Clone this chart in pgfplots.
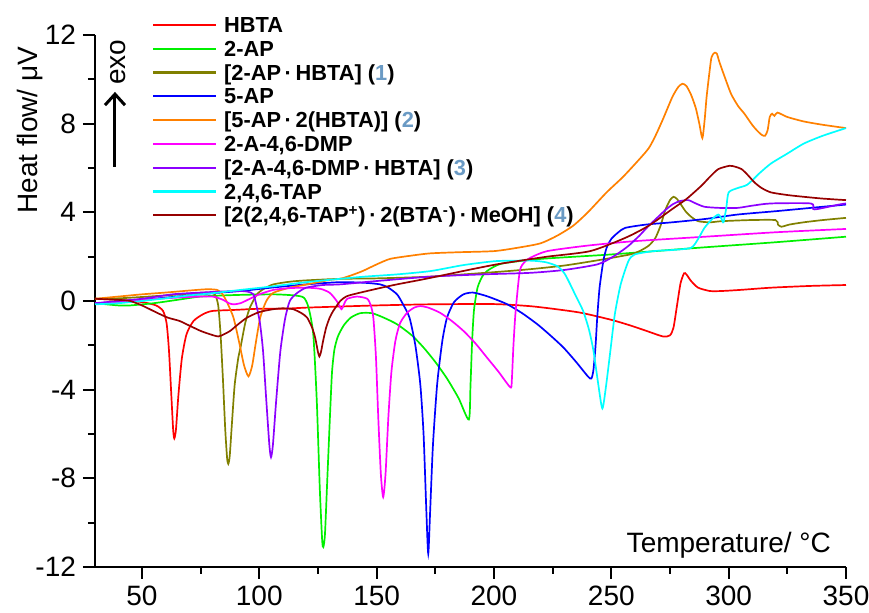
\documentclass[border=0pt]{standalone}
\usepackage{fontspec}
\setmainfont{Liberation Sans}
\usepackage{pgfplots}
\pgfplotsset{compat=1.18}
\usetikzlibrary{arrows.meta}
\definecolor{cHBTA}{RGB}{255,0,0}
\definecolor{cTwoAP}{RGB}{0,240,0}
\definecolor{cOne}{RGB}{128,128,0}
\definecolor{cFiveAP}{RGB}{0,0,255}
\definecolor{cTwo}{RGB}{255,128,0}
\definecolor{cDMP}{RGB}{255,0,255}
\definecolor{cThree}{RGB}{140,0,255}
\definecolor{cTAP}{RGB}{0,255,255}
\definecolor{cFour}{RGB}{150,0,0}
\definecolor{numblue}{RGB}{106,154,196}
\newcommand{\nb}[1]{\textcolor{numblue}{#1}}
\begin{document}
\begin{tikzpicture}
\begin{axis}[
  at={(0,0)}, anchor=south west,
  scale only axis, width=375.5pt, height=266pt,
  xmin=30, xmax=350, ymin=-12, ymax=12,
  axis lines=left, axis line style={-, line width=1pt, black},
  tick align=outside, major tick length=6pt, minor tick length=3.5pt,
  xtick={50,100,...,350}, minor x tick num=1,
  ytick={-12,-8,...,12}, minor y tick num=1,
  tick style={black, line width=1pt},
  ticklabel style={font=\fontsize{14}{16}\selectfont},
  /pgf/number format/assume math mode=true,
  clip=false,
  legend cell align=left,
  legend style={
    at={(0,1)}, anchor=north west, xshift=28.5pt, yshift=11pt,
    draw=none, fill=none, inner sep=0pt, outer sep=0pt,
    font=\fontsize{10.9}{12}\selectfont\bfseries,
    row sep=0pt, column sep=3.5pt,
    nodes={inner sep=0pt, text height=9.8pt, text depth=2.1pt},
  },
  legend image code/.code={\draw[#1, line width=1.1pt] (0pt,0pt) -- (31.5pt,0pt);},
  every axis plot/.append style={line width=0.85pt, smooth, tension=0.4},
]
% HBTA
\addplot[cHBTA] coordinates {
(30,0.1)(40,0.05)(50,-0.05)(56,-0.2)(59,-0.45)(60.5,-1.0)(61.5,-2.2)(62.5,-4.2)(63.3,-5.8)(63.8,-6.2)(64.5,-5.8)(65.5,-4.3)(67,-2.6)(69,-1.5)(72,-0.9)(76,-0.6)(80,-0.45)(90,-0.4)(100,-0.35)(110,-0.35)(120,-0.3)(134.5,-0.25)(150,-0.2)(173,-0.15)(200,-0.14)(215,-0.23)(225,-0.35)(237,-0.53)(250,-0.85)(258,-1.1)(265,-1.35)(272,-1.6)(275,-1.55)(276.5,-1.2)(278,-0.2)(279.5,0.8)(281,1.25)(282,1.2)(284,0.9)(287,0.6)(292,0.45)(297,0.45)(305,0.5)(318,0.6)(335,0.68)(350,0.72)};
\addlegendentry{HBTA}
% 2-AP
\addplot[cTwoAP] coordinates {
(30,-0.1)(40,-0.2)(45,-0.2)(55,-0.1)(65,0.05)(75,0.2)(90,0.27)(106,0.3)(115,0.25)(119,0.15)(121,-0.3)(123,-1.5)(124.5,-4.5)(125.8,-8.5)(126.8,-10.8)(127.3,-11.1)(128,-10.5)(129,-8)(130.2,-5)(131,-3.2)(132,-2.2)(133.5,-1.6)(136,-1.1)(139,-0.75)(143,-0.55)(148,-0.55)(153,-0.75)(158.7,-1.05)(165,-1.55)(170,-2.1)(175,-2.75)(180,-3.5)(185,-4.4)(189.3,-5.35)(190,-3.8)(190.7,-1.8)(191.5,-0.4)(193,0.6)(195,1.1)(197,1.35)(201,1.6)(205,1.72)(220,1.9)(250,2.1)(287,2.4)(320,2.65)(350,2.9)};
\addlegendentry{2-AP}
% (1)
\addplot[cOne] coordinates {
(30,0.1)(40,0.12)(50,0.18)(60,0.25)(70,0.33)(77.7,0.38)(81,0.3)(82.5,-0.2)(83.5,-1.5)(84.5,-3.5)(85.5,-5.8)(86.3,-7.1)(86.8,-7.35)(87.4,-7.0)(88.3,-5.6)(89.5,-3.8)(91,-2.6)(92,-2.1)(94,-1.0)(96,-0.3)(99,0.3)(102,0.55)(106,0.75)(113,0.87)(120,0.93)(134.5,1.0)(150,1.02)(173,1.1)(200,1.3)(215,1.43)(230,1.6)(245,1.85)(258,2.1)(262,2.25)(266,2.5)(268.8,2.85)(271,3.4)(273,4.1)(275,4.55)(276.5,4.7)(278,4.6)(280,4.3)(281.6,4.05)(284,3.8)(287,3.6)(292,3.55)(297,3.6)(309,3.65)(320,3.65)(321,3.45)(322.5,3.35)(326,3.45)(332,3.55)(340,3.65)(350,3.75)};
\addlegendentry{[2-AP\,·\,HBTA] (\nb{1})}
% 5-AP
\addplot[cFiveAP] coordinates {
(30,-0.1)(40,-0.05)(50,0.05)(60,0.15)(70,0.25)(80,0.35)(92,0.45)(105,0.6)(120,0.75)(134.5,0.85)(145,0.82)(151.5,0.75)(155,0.6)(158.7,0.3)(161,-0.1)(164,-0.75)(166.5,-2.0)(168.6,-3.75)(170,-6)(171.2,-9.5)(172,-11.4)(172.8,-9.5)(174,-6.5)(175.8,-3.75)(178,-1.8)(180,-0.75)(183,-0.05)(187,0.3)(191,0.38)(196,0.25)(200,0.1)(205.7,-0.15)(212,-0.55)(218.5,-1.05)(224,-1.55)(229.6,-2.1)(235,-2.75)(240,-3.4)(241.5,-3.5)(242.4,-3.1)(243.3,-2.0)(244,-0.75)(245,0.6)(246.6,1.8)(248,2.4)(250,2.8)(253,3.1)(256,3.3)(265,3.45)(276,3.55)(290,3.7)(303.8,3.9)(320,4.05)(335,4.2)(350,4.35)};
\addlegendentry{5-AP}
% (2)
\addplot[cTwo] coordinates {
(30,0.1)(40,0.2)(50,0.3)(60,0.38)(70,0.47)(77.7,0.53)(82,0.5)(84,0.35)(86,0)(89,-0.75)(91.5,-1.9)(93.5,-2.9)(95.4,-3.4)(97,-2.9)(98.5,-1.9)(100.4,-0.75)(103,0)(106,0.37)(113,0.6)(120.4,0.75)(130,0.95)(134.5,1.0)(139,1.15)(144,1.35)(150,1.65)(155.8,1.9)(165,2.05)(173,2.15)(185,2.2)(200,2.25)(210,2.4)(219.8,2.6)(227,2.95)(233.8,3.4)(240,4.0)(248,4.9)(255,5.6)(262,6.4)(266,6.9)(268.8,7.45)(272,8.2)(276,9.2)(278.5,9.65)(280.3,9.8)(282,9.7)(284,9.3)(286,8.7)(287.5,8.0)(288.8,7.35)(289.8,8.2)(290.6,9.2)(291.8,10.3)(292.7,11.0)(294,11.2)(295,11.15)(296,10.8)(298,10.2)(301,9.35)(304,8.8)(306.7,8.45)(310,7.95)(312,7.7)(314,7.5)(315.5,7.45)(316.6,7.7)(317.5,8.3)(318.5,8.45)(319.5,8.35)(320.8,8.5)(325,8.3)(332,8.1)(340,7.95)(350,7.8)};
\addlegendentry{[5-AP\,·\,2(HBTA)] (\nb{2})}
% 2-A-4,6-DMP
\addplot[cDMP] coordinates {
(30,-0.1)(40,-0.05)(50,0.05)(60,0.12)(70,0.18)(80,0.2)(84.6,0.05)(87,-0.1)(89,-0.15)(92,-0.1)(96,0.1)(100,0.3)(106,0.5)(113,0.58)(120,0.6)(126,0.55)(130,0.37)(133,0.0)(135,-0.37)(136.3,-0.1)(137.5,0.1)(141.7,0.2)(146,0.1)(147.5,-0.2)(148.6,-0.75)(149.7,-2.5)(150.7,-5.25)(151.8,-7.8)(152.8,-8.85)(153.8,-7.8)(155,-5.25)(156.3,-3.2)(158,-1.8)(160,-1.0)(163,-0.53)(166,-0.3)(168.6,-0.23)(172,-0.3)(177,-0.53)(182,-0.9)(187,-1.35)(192,-1.9)(197,-2.55)(202,-3.2)(207,-3.9)(207.6,-3.6)(208.3,-2.0)(209.2,-0.5)(211,1.35)(213,1.75)(215.5,1.95)(222.7,2.25)(240,2.5)(260,2.7)(290,2.9)(320,3.1)(350,3.25)};
\addlegendentry{2-A-4,6-DMP}
% (3)
\addplot[cThree] coordinates {
(30,-0.1)(40,0.0)(50,0.1)(63,0.3)(75,0.38)(85,0.43)(92,0.45)(95,0.42)(97.5,0.3)(99,-0.3)(100.3,-1.0)(101.6,-2.25)(103,-4.5)(104.3,-6.5)(105,-7.05)(105.8,-6.5)(107.2,-4.5)(109,-2.25)(111,-0.8)(113,0.0)(116,0.35)(120,0.6)(127,0.72)(134.5,0.75)(150,0.9)(173,1.1)(195,1.2)(215.5,1.27)(230,1.4)(244,1.65)(250,1.95)(255,2.3)(258,2.55)(262,2.95)(266,3.4)(270,3.8)(273,4.1)(276,4.35)(279,4.5)(282.8,4.55)(286,4.4)(289.7,4.25)(296,4.2)(303.8,4.2)(310,4.3)(318,4.4)(335,4.4)(336,4.15)(338,4.15)(347,4.35)(350,4.4)};
\addlegendentry{[2-A-4,6-DMP\,·\,HBTA] (\nb{3})}
% 2,4,6-TAP
\addplot[cTAP] coordinates {
(30,-0.15)(40,-0.1)(50,0.0)(60,0.12)(70,0.25)(80,0.35)(92,0.5)(105,0.65)(120,0.85)(134.5,1.0)(145,1.1)(158.7,1.2)(173,1.35)(187,1.62)(201,1.8)(215.5,1.82)(222,1.75)(227,1.57)(230,1.25)(232.5,0.75)(235,0.2)(238,-0.45)(240.5,-1.3)(242.4,-2.25)(244.5,-3.8)(246.2,-4.85)(247.8,-3.8)(249.6,-2.25)(251.5,-0.6)(254,0.75)(257.3,1.8)(260,2.1)(268,2.25)(276,2.3)(284,2.4)(287,2.8)(289.7,3.3)(293,3.7)(295.6,3.9)(297,3.7)(297.8,3.55)(299,4.2)(300,4.9)(304,5.1)(308,5.25)(313,5.75)(318,6.2)(325,6.65)(332,7.1)(340,7.45)(350,7.8)};
\addlegendentry{2,4,6-TAP}
% (4)
\addplot[cFour] coordinates {
(30,0.1)(40,0.05)(45,0.0)(50,-0.2)(56.4,-0.53)(61,-0.75)(66,-0.9)(70,-1.1)(75,-1.35)(79,-1.5)(82.5,-1.6)(85,-1.5)(87.6,-1.35)(91,-1.05)(94.8,-0.75)(100,-0.5)(106,-0.37)(110,-0.33)(114.4,-0.37)(118,-0.55)(120.4,-0.75)(122.5,-1.2)(123.8,-1.65)(125,-2.3)(125.6,-2.5)(126.3,-2.3)(127.2,-1.8)(128.5,-1.2)(130,-0.75)(131.5,-0.45)(134.5,0.0)(137,0.2)(140,0.3)(150,0.55)(158.7,0.75)(170,0.98)(180,1.2)(190,1.42)(201,1.65)(210,1.8)(222.7,2.0)(241,2.25)(256,2.85)(266,3.4)(276,4.15)(282,4.6)(288.4,5.2)(292,5.6)(295.6,5.95)(300.4,6.1)(303,6.05)(305.5,5.95)(308,5.7)(311,5.35)(314,5.1)(318,4.9)(325,4.78)(332,4.7)(340,4.62)(350,4.55)};
\addlegendentry{[2(2,4,6-TAP\textsuperscript{+})\,·\,2(BTA\textsuperscript{-})\,·\,MeOH] (\nb{4})}
% annotations
\node[rotate=90, anchor=base, font=\fontsize{14}{16}\selectfont] at (axis description cs:-0.0772,0.821) {Heat flow/ μV};
\node[anchor=base east, font=\fontsize{14}{16}\selectfont] at (axis description cs:0.9893,0.0263) {Temperature/ °C};
\node[rotate=90, anchor=base, font=\fontsize{14}{16}\selectfont] at (axis description cs:0.04,0.949) {exo};
\draw[line width=1.5pt, -{Straight Barb[length=5.5pt, width=10pt, line width=1.5pt]}] (axis description cs:0.0266,0.752) -- (axis description cs:0.0266,0.893);
\end{axis}
\pgfresetboundingbox
\path[use as bounding box] (-47.5pt,-23pt) rectangle (387pt,283.5pt);
\end{tikzpicture}
\end{document}
